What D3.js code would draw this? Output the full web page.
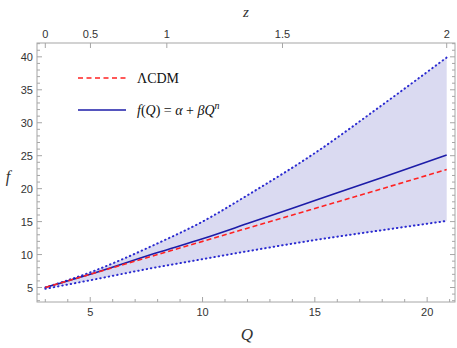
<!DOCTYPE html>
<html>
<head>
<meta charset="utf-8">
<script src="https://cdnjs.cloudflare.com/ajax/libs/d3/7.8.5/d3.min.js"></script>
<style>
body { margin: 0; background: #fff; }
</style>
</head>
<body>
<div id="chart"></div>
<script>
// values
var qValues = [3, 5, 8, 10, 12, 15, 18, 20.87];
var fModel = [5.0, 7.0, 10.3, 12.4, 14.7, 18.2, 21.7, 25.1];   // f(Q) = alpha + beta Q^n
var fLcdm = [5.0, 7.0, 10.0, 12.0, 14.0, 17.0, 20.0, 22.9];
var fUpper = [5.0, 7.3, 11.7, 15.0, 19.0, 25.4, 32.7, 39.9];
var fLower = [4.8, 6.1, 8.1, 9.3, 10.5, 12.2, 13.7, 15.1];

var qTicks = [5, 10, 15, 20];
var fTicks = [5, 10, 15, 20, 25, 30, 35, 40];
var zTicks = ["0", "0.5", "1", "1.5", "2"];
var zTickQ = [3.0, 5.01, 8.41, 13.56, 20.87];

var width = 457;
var height = 348;
var frame = {left: 37, right: 455, top: 43, bottom: 302};

var svg = d3.select("#chart").append("svg")
    .attr("width", width)
    .attr("height", height);

var x = d3.scaleLinear().domain([2.63, 21.24]).range([frame.left, frame.right]);
var y = d3.scaleLinear().domain([2.8, 42.1]).range([frame.bottom, frame.top]);

var rows = qValues.map(function (q, i) {
    return {q: q, model: fModel[i], lcdm: fLcdm[i], up: fUpper[i], lo: fLower[i]};
});

// shaded band between the bounds
var area = d3.area().curve(d3.curveMonotoneX)
    .x(d => x(d.q)).y0(d => y(d.lo)).y1(d => y(d.up));
svg.append("path").datum(rows)
    .attr("d", area)
    .attr("fill", "#dadaf1");

function line(key) {
    return d3.line().curve(d3.curveMonotoneX).x(d => x(d.q)).y(d => y(d[key]));
}

["up", "lo"].forEach(function (k) {
    svg.append("path").datum(rows)
        .attr("d", line(k))
        .attr("fill", "none")
        .attr("stroke", "#2a2ad0")
        .attr("stroke-width", 2)
        .attr("stroke-linecap", "round")
        .attr("stroke-dasharray", "0.5,3.8");
});

svg.append("path").datum(rows)
    .attr("d", line("model"))
    .attr("fill", "none")
    .attr("stroke", "#1c1ca8")
    .attr("stroke-width", 1.6);

svg.append("path").datum(rows)
    .attr("d", line("lcdm"))
    .attr("fill", "none")
    .attr("stroke", "#ff2222")
    .attr("stroke-width", 1.6)
    .attr("stroke-dasharray", "5,3");

// frame
svg.append("rect")
    .attr("x", frame.left).attr("y", frame.top)
    .attr("width", frame.right - frame.left)
    .attr("height", frame.bottom - frame.top)
    .attr("fill", "none").attr("stroke", "#a6a6a6").attr("stroke-width", 1);

var tickColor = "#a6a6a6";
var labelFont = "'Liberation Sans', Arial, sans-serif";

// bottom axis, minor ticks every 1
d3.range(3, 22).forEach(function (q) {
    var major = qTicks.indexOf(q) >= 0;
    svg.append("line")
        .attr("x1", x(q)).attr("x2", x(q))
        .attr("y1", frame.bottom).attr("y2", frame.bottom - (major ? 5 : 3))
        .attr("stroke", tickColor);
});
svg.selectAll(".qlab").data(qTicks).enter().append("text")
    .attr("x", d => x(d)).attr("y", frame.bottom + 14)
    .attr("text-anchor", "middle")
    .attr("font-family", labelFont).attr("font-size", "11px").attr("fill", "#333")
    .text(d => d);

// left and right axes
d3.range(3, 43).forEach(function (f) {
    var major = fTicks.indexOf(f) >= 0;
    var len = major ? 5 : 3;
    svg.append("line")
        .attr("x1", frame.left).attr("x2", frame.left + len)
        .attr("y1", y(f)).attr("y2", y(f)).attr("stroke", tickColor);
    svg.append("line")
        .attr("x1", frame.right).attr("x2", frame.right - len)
        .attr("y1", y(f)).attr("y2", y(f)).attr("stroke", tickColor);
});
svg.selectAll(".flab").data(fTicks).enter().append("text")
    .attr("x", frame.left - 4).attr("y", d => y(d) + 4)
    .attr("text-anchor", "end")
    .attr("font-family", labelFont).attr("font-size", "11px").attr("fill", "#333")
    .text(d => d);

// top axis in z
zTickQ.forEach(function (q, i) {
    svg.append("line")
        .attr("x1", x(q)).attr("x2", x(q))
        .attr("y1", frame.top).attr("y2", frame.top + 5)
        .attr("stroke", tickColor);
    svg.append("text")
        .attr("x", x(q)).attr("y", frame.top - 5)
        .attr("text-anchor", "middle")
        .attr("font-family", labelFont).attr("font-size", "11px").attr("fill", "#333")
        .text(zTicks[i]);
});

// axis titles
var serif = "'Liberation Serif', 'Times New Roman', serif";
svg.append("text").attr("x", 246).attr("y", 17)
    .attr("text-anchor", "middle").attr("font-family", serif)
    .attr("font-style", "italic").attr("font-size", "15px").attr("fill", "#333")
    .text("z");
svg.append("text").attr("x", 247).attr("y", 340)
    .attr("text-anchor", "middle").attr("font-family", serif)
    .attr("font-style", "italic").attr("font-size", "17px").attr("fill", "#333")
    .text("Q");
svg.append("text").attr("x", 8).attr("y", 182)
    .attr("text-anchor", "middle").attr("font-family", serif)
    .attr("font-style", "italic").attr("font-size", "16px").attr("fill", "#333")
    .text("f");

// legend
svg.append("line")
    .attr("x1", 78).attr("x2", 126).attr("y1", 78).attr("y2", 78)
    .attr("stroke", "#ff2222").attr("stroke-width", 1.6).attr("stroke-dasharray", "5,3.5");
svg.append("text").attr("x", 137).attr("y", 83)
    .attr("font-family", serif).attr("font-size", "14px").attr("fill", "#111")
    .text("ΛCDM");

svg.append("line")
    .attr("x1", 78).attr("x2", 126).attr("y1", 110).attr("y2", 110)
    .attr("stroke", "#1c1ca8").attr("stroke-width", 1.6);
var leg = svg.append("text").attr("x", 137).attr("y", 115)
    .attr("font-family", serif).attr("font-size", "14px").attr("fill", "#111");
leg.append("tspan").attr("font-style", "italic").text("f");
leg.append("tspan").text("(");
leg.append("tspan").attr("font-style", "italic").text("Q");
leg.append("tspan").text(") = ");
leg.append("tspan").attr("font-style", "italic").text("α");
leg.append("tspan").text(" + ");
leg.append("tspan").attr("font-style", "italic").text("βQ");
leg.append("tspan").attr("font-style", "italic").attr("font-size", "10px")
    .attr("dy", -6).text("n");
</script>
</body>
</html>
